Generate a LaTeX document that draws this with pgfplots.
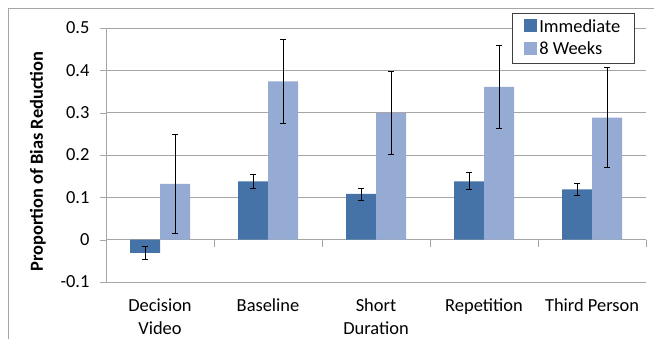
\documentclass[border=0pt]{standalone}
\usepackage{fontspec}
\setmainfont{Carlito}
\usepackage{pgfplots}
\usepackage{pgfplotstable}
\pgfplotsset{compat=1.18}
\definecolor{imm}{HTML}{4573A8}
\definecolor{wk}{HTML}{95ABD4}
\definecolor{gridc}{HTML}{A6A6A6}
\pgfplotstableread{
x y e
0 -0.031 0.016
1 0.138 0.017
2 0.108 0.014
3 0.138 0.020
4 0.119 0.015
}\immtab
\pgfplotstableread{
x y e
0 0.132 0.117
1 0.374 0.100
2 0.299 0.098
3 0.361 0.098
4 0.288 0.118
}\wktab
\begin{document}
\begin{tikzpicture}[x=1bp,y=1bp]
\begin{axis}[
  at={(106bp,57bp)}, anchor=south west,
  scale only axis, width=540bp, height=254bp,
  xmin=-0.5, xmax=4.5, ymin=-0.1, ymax=0.5,
  ybar=0pt, bar width=30bp,
  axis lines*=left,
  axis line style={gridc},
  xtick={0,1,2,3,4},
  xticklabels={{Decision\\Video},Baseline,{Short\\Duration},Repetition,{Third Person}},
  x tick label style={align=center, font=\fontsize{18.5}{23}\selectfont, yshift=-7bp},
  major x tick style={draw=none},
  ytick={-0.1,0,0.1,0.2,0.3,0.4,0.5},
  y tick label style={font=\fontsize{18.5}{20}\selectfont, xshift=-7bp},
  /pgf/number format/assume math mode=true,
  /pgf/number format/fixed,
  major y tick style={gridc},
  tick align=outside, major tick length=6bp,
  ymajorgrids, grid style={gridc, line width=0.6bp},
  ylabel={\textbf{Proportion of Bias Reduction}},
  ylabel style={at={(axis description cs:-0.126,0.474)}, anchor=center, rotate=0, font=\fontsize{18.5}{20}\selectfont},
  legend style={at={(axis description cs:0.752,1.059)}, anchor=north west,
    draw=black!75, font=\fontsize{18.5}{21}\selectfont, inner xsep=12bp, inner ysep=4.5bp,
    row sep=4bp},
  legend cell align=left,
  legend image code/.code={\fill[#1, draw=none] (12bp,-5.5bp) rectangle (25bp,7.5bp);},
  error bars/error bar style={black, line width=0.7bp},
  error bars/error mark options={black, rotate=90, mark size=3bp, line width=0.7bp},
  clip=false,
]
\addplot[fill=imm, draw=none, error bars/.cd, y dir=both, y explicit]
  table[x=x, y=y, y error=e]{\immtab};
\addlegendentry{Immediate}
\addplot[fill=wk, draw=none, error bars/.cd, y dir=both, y explicit]
  table[x=x, y=y, y error=e]{\wktab};
\addlegendentry{8 Weeks}
\pgfplotsinvokeforeach{0.5,1.5,2.5,3.5,4.5}{
  \draw[gridc, line width=0.6bp] (axis cs:#1,0) -- ([yshift=-7bp]axis cs:#1,0);
}
\end{axis}
\draw[gridc, line width=0.8bp] (8,0) -- (8,331) -- (660,331);
\pgfresetboundingbox
\useasboundingbox (0,0) rectangle (654,339);
\end{tikzpicture}
\end{document}
